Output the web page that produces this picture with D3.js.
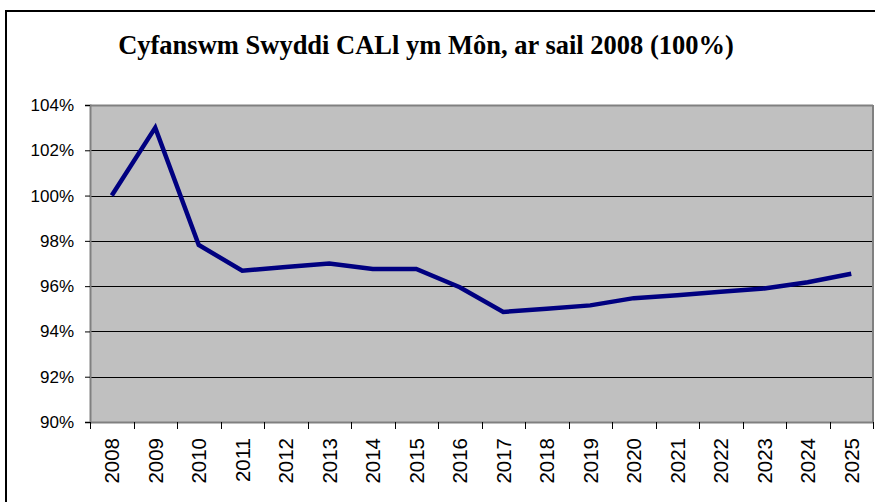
<!DOCTYPE html>
<html>
<head>
<meta charset="utf-8">
<script src="https://cdn.jsdelivr.net/npm/d3@7"></script>
<style>
  body { margin: 0; background: #fff; }
  svg { display: block; }
</style>
</head>
<body>
<div id="chart"></div>
<script>
// years on the x axis
const years = ["2008", "2009", "2010", "2011", "2012", "2013", "2014", "2015", "2016",
  "2017", "2018", "2019", "2020", "2021", "2022", "2023", "2024", "2025"];
// total jobs, indexed to 2008 = 100%
const jobsIndex = [100.0, 103.0, 97.82, 96.68, 96.85, 97.0, 96.76, 96.76, 95.95,
  94.86, 95.0, 95.15, 95.47, 95.6, 95.75, 95.9, 96.17, 96.55];
const yTicks = [90, 92, 94, 96, 98, 100, 102, 104];
const title = "Cyfanswm Swyddi CALl ym Môn, ar sail 2008 (100%)";

const width = 875, height = 502;
const plot = { left: 90, top: 105, right: 873, bottom: 422 };

const svg = d3.select("#chart").append("svg")
  .attr("width", width)
  .attr("height", height);

// outer chart frame (runs off the right and bottom edges)
svg.append("rect")
  .attr("x", 6).attr("y", 11)
  .attr("width", width + 10).attr("height", height + 10)
  .attr("fill", "#fff")
  .attr("stroke", "#000")
  .attr("stroke-width", 2);

svg.append("text")
  .attr("x", 426).attr("y", 54)
  .attr("text-anchor", "middle")
  .style("font-family", "'Liberation Serif', 'Times New Roman', serif")
  .style("font-weight", "700")
  .style("font-size", "26.5px")
  .text(title);

const x = d3.scaleBand()
  .domain(years)
  .range([plot.left, plot.right]);

const y = d3.scaleLinear()
  .domain([90, 104])
  .range([plot.bottom, plot.top]);

svg.append("rect")
  .attr("x", plot.left).attr("y", plot.top)
  .attr("width", plot.right - plot.left)
  .attr("height", plot.bottom - plot.top)
  .attr("fill", "#c0c0c0");

// gridlines
svg.append("g")
  .selectAll("line")
  .data(yTicks.filter(d => d > 90))
  .enter().append("line")
  .attr("x1", plot.left).attr("x2", plot.right)
  .attr("y1", d => Math.round(y(d)) + 0.5)
  .attr("y2", d => Math.round(y(d)) + 0.5)
  .attr("stroke", d => d === 104 ? "#808080" : "#000")
  .attr("stroke-width", d => d === 104 ? 2 : 1);

// right edge of plot area
svg.append("line")
  .attr("x1", plot.right).attr("x2", plot.right)
  .attr("y1", plot.top).attr("y2", plot.bottom)
  .attr("stroke", "#808080").attr("stroke-width", 2);

const axisFont = "'Liberation Sans', Arial, sans-serif";

// y axis
const yAxis = svg.append("g")
  .attr("transform", `translate(${plot.left},0)`)
  .call(d3.axisLeft(y).tickValues(yTicks).tickSize(5).tickPadding(11)
    .tickFormat(d => d + "%"));
yAxis.select(".domain").attr("stroke", "#808080").attr("stroke-width", 2);
yAxis.selectAll(".tick line").attr("stroke", "#000");
yAxis.selectAll("text")
  .style("font-family", axisFont)
  .style("font-size", "17px")
  .attr("fill", "#000");

// x axis: ticks between categories
const boundaries = years.map(d => x(d)).concat([plot.right]);
const xAxis = svg.append("g")
  .attr("transform", `translate(0,${plot.bottom})`);
xAxis.append("line")
  .attr("x1", plot.left).attr("x2", plot.right)
  .attr("y1", 0.5).attr("y2", 0.5)
  .attr("stroke", "#808080").attr("stroke-width", 2);
xAxis.selectAll(".tk")
  .data(boundaries)
  .enter().append("line")
  .attr("x1", d => Math.round(d) + 0.5).attr("x2", d => Math.round(d) + 0.5)
  .attr("y1", 0).attr("y2", 7)
  .attr("stroke", "#000");
xAxis.selectAll(".lbl")
  .data(years)
  .enter().append("text")
  .attr("transform", d => `translate(${x(d) + x.bandwidth() / 2 + 7.5},${16}) rotate(-90)`)
  .attr("text-anchor", "end")
  .style("font-family", axisFont)
  .style("font-size", "20.5px")
  .text(d => d);

// the series line
const line = d3.line()
  .x((d, i) => x(years[i]) + x.bandwidth() / 2)
  .y(d => y(d));

svg.append("path")
  .datum(jobsIndex)
  .attr("d", line)
  .attr("fill", "none")
  .attr("stroke", "#000080")
  .attr("stroke-width", 4.5)
  .attr("stroke-linejoin", "miter");
</script>
</body>
</html>
